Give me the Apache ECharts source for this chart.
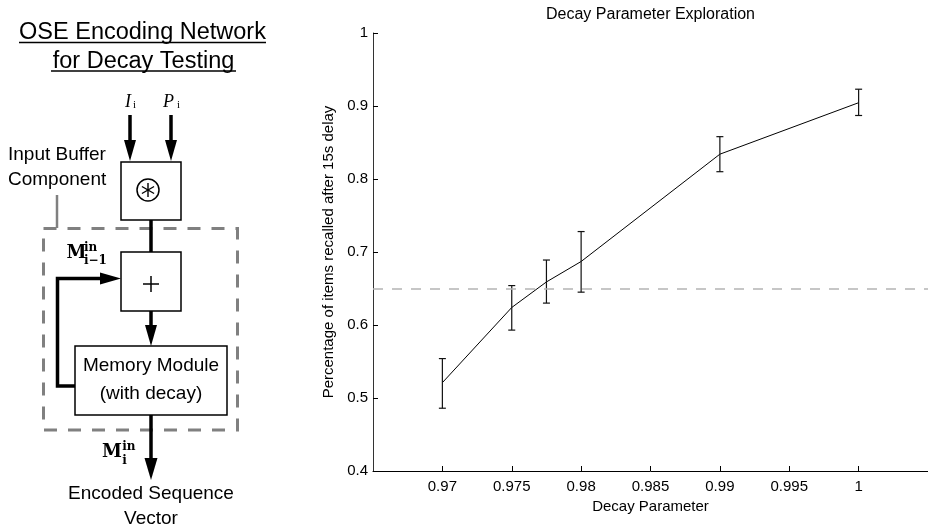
<!DOCTYPE html>
<html><head><meta charset="utf-8">
<script src="https://cdn.jsdelivr.net/npm/echarts@6/dist/echarts.min.js"></script>
<style>html,body{margin:0;padding:0;background:#fff}#c{width:928px;height:525px}</style>
</head><body><div id="c"></div>
<script>
// ---- data ----
const decayParams = [0.97, 0.975, 0.9775, 0.98, 0.99, 1.0];
const recallMean  = [0.521, 0.624, 0.659, 0.687, 0.834, 0.9045];
const recallLow   = [0.486, 0.593, 0.630, 0.645, 0.810, 0.887];
const recallHigh  = [0.554, 0.654, 0.689, 0.728, 0.858, 0.923];
const thresholdValue = 0.65;
const xTickValues = [0.97, 0.975, 0.98, 0.985, 0.99, 0.995, 1];
const yTickValues = [0.4, 0.5, 0.6, 0.7, 0.8, 0.9, 1];
const chartTitle = 'Decay Parameter Exploration';
const xAxisTitle = 'Decay Parameter';
const yAxisTitle = 'Percentage of items recalled after 15s delay';

// ---- diagram helpers ----
const SANS = '"Liberation Sans", Arial, sans-serif';
const SERIF = '"Liberation Serif", "Times New Roman", serif';
const BSERIF = '"DejaVu Serif", serif';
const K = '#000';
function txt(x, y, text, size, opt) {
  opt = opt || {};
  return { type: 'text', x: x, y: y, silent: true, style: {
    text: text, fontSize: size, fontFamily: opt.family || SANS,
    fontWeight: opt.weight || 'normal', fontStyle: opt.style || 'normal',
    fill: opt.fill || K, textAlign: opt.align || 'center', textVerticalAlign: 'middle' } };
}
function ln(x1, y1, x2, y2, w, color) {
  return { type: 'line', silent: true, shape: { x1: x1, y1: y1, x2: x2, y2: y2 }, style: { stroke: color || K, lineWidth: w } };
}
function poly(points) {
  return { type: 'polygon', silent: true, shape: { points: points }, style: { fill: K } };
}
function arrowDown(x, y0, tip, len, hw, w) {
  return [ln(x, y0, x, tip - len + 2, w), poly([[x - hw, tip - len], [x + hw, tip - len], [x, tip]])];
}
function box(x, y, w, h) {
  return { type: 'rect', silent: true, shape: { x: x, y: y, width: w, height: h }, style: { fill: '#fff', stroke: K, lineWidth: 1.5 } };
}

const diagram = [];
// dashed input-buffer region (drawn first, underneath)
diagram.push({ type: 'rect', silent: true, shape: { x: 43.5, y: 228.5, width: 194, height: 201.5 },
  style: { fill: 'none', stroke: '#808080', lineWidth: 3, lineDash: [13, 11] } });
diagram.push(ln(57, 195, 57, 228, 2.5, '#808080'));
// titles
diagram.push(txt(142.5, 32.5, 'OSE Encoding Network', 23.5));
diagram.push(ln(19, 42.5, 266, 42.5, 1.5));
diagram.push(txt(143.5, 61.5, 'for Decay Testing', 23.5));
diagram.push(ln(51, 71, 236, 71, 1.5));
// inputs
diagram.push(txt(128, 102.5, 'I', 18, { family: SERIF, style: 'italic' }));
diagram.push(txt(134.5, 105, 'i', 11, { family: SERIF }));
diagram.push(txt(168.5, 102.5, 'P', 18, { family: SERIF, style: 'italic' }));
diagram.push(txt(178.5, 105, 'i', 11, { family: SERIF }));
arrowDown(130, 115, 161, 21, 6, 3.5).forEach(e => diagram.push(e));
arrowDown(171, 115, 161, 21, 6, 3.5).forEach(e => diagram.push(e));
// convolution box
diagram.push(ln(151, 220, 151, 252, 3.5));
diagram.push(box(121, 162, 60, 58));
diagram.push({ type: 'circle', silent: true, shape: { cx: 148, cy: 190, r: 11 }, style: { fill: 'none', stroke: K, lineWidth: 1.5 } });
[90, 30, 150].forEach(a => {
  const r = 7, dx = r * Math.cos(a * Math.PI / 180), dy = r * Math.sin(a * Math.PI / 180);
  diagram.push(ln(148 - dx, 190 - dy, 148 + dx, 190 + dy, 1.4));
});
diagram.push(txt(8, 155, 'Input Buffer', 19, { align: 'left' }));
diagram.push(txt(8, 180, 'Component', 19, { align: 'left' }));
// adder box
diagram.push(box(121, 252, 60, 59));
diagram.push(ln(143, 284, 159, 284, 1.5));
diagram.push(ln(151, 276, 151, 292, 1.5));
// feedback loop
diagram.push({ type: 'polyline', silent: true, shape: { points: [[75, 386], [57.5, 386], [57.5, 278.5], [102, 278.5]] },
  style: { stroke: K, lineWidth: 3.5, fill: 'none' } });
diagram.push(poly([[100, 272.5], [100, 284.5], [121, 278.5]]));
// M_{i-1}^{in}
diagram.push(txt(66.5, 253.5, 'M', 18, { family: BSERIF, weight: 'bold', align: 'left' }));
diagram.push(txt(84, 247.5, 'in', 12, { family: BSERIF, weight: 'bold', align: 'left' }));
diagram.push(txt(84, 260.5, 'i\u22121', 12, { family: BSERIF, weight: 'bold', align: 'left' }));
// arrow to memory
arrowDown(151, 311, 346, 21, 6, 3.5).forEach(e => diagram.push(e));
// memory module
diagram.push(box(75, 346, 152, 69));
diagram.push(txt(151, 366, 'Memory Module', 19));
diagram.push(txt(151, 393.5, '(with decay)', 19));
// output arrow
arrowDown(151, 415, 480, 22, 6.5, 3.5).forEach(e => diagram.push(e));
diagram.push(txt(102, 452.5, 'M', 18, { family: BSERIF, weight: 'bold', align: 'left' }));
diagram.push(txt(122.3, 447, 'in', 12, { family: BSERIF, weight: 'bold', align: 'left' }));
diagram.push(txt(122.3, 460.5, 'i', 12, { family: BSERIF, weight: 'bold', align: 'left' }));
diagram.push(txt(151, 493.5, 'Encoded Sequence', 19));
diagram.push(txt(151, 518.5, 'Vector', 19));

// ---- chart ----
const lineData = decayParams.map((d, i) => [d, recallMean[i]]);
const errData = decayParams.map((d, i) => [d, recallLow[i], recallHigh[i]]);
const fmt = v => String(+(+v).toFixed(4));

const chart = echarts.init(document.getElementById('c'), null, { renderer: 'canvas' });
chart.setOption({
  animation: false,
  backgroundColor: '#fff',
  textStyle: { fontFamily: SANS },
  title: { text: chartTitle, left: 650.5, top: 7, textAlign: 'center', padding: 0,
    textStyle: { fontSize: 16, fontWeight: 'normal', color: '#000', fontFamily: SANS } },
  graphic: { elements: diagram },
  grid: { left: 373, top: 33, width: 555, height: 438, containLabel: false },
  xAxis: {
    type: 'value', min: 0.965, max: 1.005,
    name: xAxisTitle, nameLocation: 'middle', nameGap: 26,
    nameTextStyle: { fontSize: 15, color: '#000', fontFamily: SANS },
    axisLine: { show: true, onZero: false, lineStyle: { color: '#000', width: 1 } },
    axisTick: { show: true, inside: true, length: 5, customValues: xTickValues, lineStyle: { color: '#000' } },
    axisLabel: { show: true, customValues: xTickValues, margin: 8, fontSize: 15, color: '#000', fontFamily: SANS, formatter: fmt },
    splitLine: { show: false }
  },
  yAxis: {
    type: 'value', min: 0.4, max: 1,
    name: yAxisTitle, nameLocation: 'middle', nameGap: 36, nameRotate: 90,
    nameTextStyle: { fontSize: 15, color: '#000', fontFamily: SANS },
    axisLine: { show: true, onZero: false, lineStyle: { color: '#333', width: 1 } },
    axisTick: { show: true, inside: true, length: 5, customValues: yTickValues, lineStyle: { color: '#000' } },
    axisLabel: { show: true, customValues: yTickValues, margin: 5, fontSize: 15, color: '#000', fontFamily: SANS, formatter: fmt },
    splitLine: { show: false }
  },
  series: [
    {
      type: 'line', data: lineData, showSymbol: false, symbol: 'none',
      lineStyle: { color: '#000', width: 1 }, z: 3,
      markLine: { silent: true, symbol: 'none', label: { show: false },
        lineStyle: { color: '#b4b4b4', width: 1.5, type: [10, 9] },
        data: [{ yAxis: thresholdValue }] }
    },
    {
      type: 'custom', data: errData, z: 4,
      renderItem: function (params, api) {
        const x = api.value(0);
        const lo = api.coord([x, api.value(1)]);
        const hi = api.coord([x, api.value(2)]);
        const w = 3.5;
        const st = { stroke: '#111', lineWidth: 1.2 };
        return { type: 'group', children: [
          { type: 'line', shape: { x1: lo[0], y1: lo[1], x2: hi[0], y2: hi[1] }, style: st },
          { type: 'line', shape: { x1: hi[0] - w, y1: hi[1], x2: hi[0] + w, y2: hi[1] }, style: st },
          { type: 'line', shape: { x1: lo[0] - w, y1: lo[1], x2: lo[0] + w, y2: lo[1] }, style: st }
        ] };
      }
    }
  ]
});
</script>
</body></html>
